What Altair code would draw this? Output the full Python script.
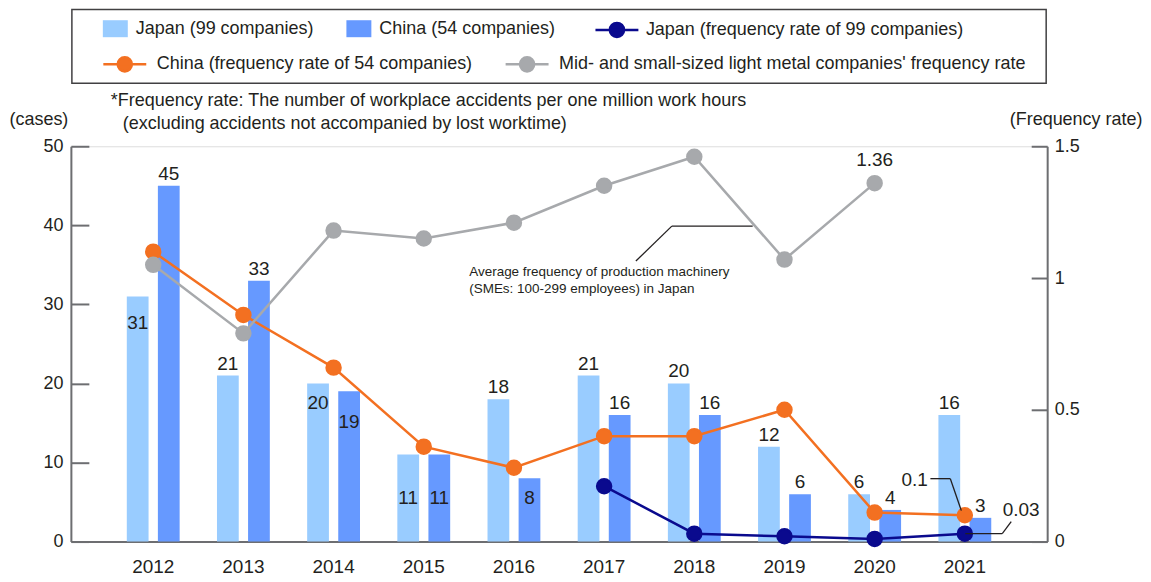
import altair as alt
import pandas as pd

# ---------------- data ----------------
years = [2012, 2013, 2014, 2015, 2016, 2017, 2018, 2019, 2020, 2021]
japan_cases = [31, 21, 20, 11, 18, 21, 20, 12, 6, 16]
china_cases = [45, 33, 19, 11, 8, 16, 16, 6, 4, 3]

japan_rate_years = [2017, 2018, 2019, 2020, 2021]
japan_rate = [0.21, 0.03, 0.02, 0.01, 0.03]

china_rate_years = years
china_rate = [1.10, 0.86, 0.66, 0.36, 0.28, 0.40, 0.40, 0.50, 0.11, 0.10]

sme_rate_years = [2012, 2013, 2014, 2015, 2016, 2017, 2018, 2019, 2020]
sme_rate = [1.05, 0.79, 1.18, 1.15, 1.21, 1.35, 1.46, 1.07, 1.36]

bar_series = ["Japan (99 companies)", "China (54 companies)"]
jp_rate_name = "Japan (frequency rate of 99 companies)"
cn_rate_name = "China (frequency rate of 54 companies)"
sme_rate_name = "Mid- and small-sized light metal companies' frequency rate"

footnote = ["*Frequency rate: The number of workplace accidents per one million work hours",
            "(excluding accidents not accompanied by lost worktime)"]
avg_note = ["Average frequency of production machinery",
            "(SMEs: 100-299 employees) in Japan"]

# ---------------- styles ----------------
FONT = "Liberation Sans"
TXT = "#231F20"
AX = "#6D6E71"
C_JP_BAR = "#99CCFF"
C_CN_BAR = "#6699FF"
C_JP_RATE = "#0A0A8E"
C_CN_RATE = "#F37021"
C_SME = "#A7A9AC"

# label placement (pixel offsets below the bar top for labels drawn inside; default above)
inside_offsets = {
    (bar_series[0], 2012): 33, (bar_series[0], 2014): 26, (bar_series[1], 2014): 37,
    (bar_series[0], 2015): 49, (bar_series[1], 2015): 49, (bar_series[1], 2016): 26,
}
ABOVE = -6

bars_df = pd.DataFrame({
    "year": years * 2,
    "series": [bar_series[0]] * len(years) + [bar_series[1]] * len(years),
    "cases": japan_cases + china_cases,
})
bars_df["dy"] = [inside_offsets.get((s, y), ABOVE) for s, y in zip(bars_df.series, bars_df.year)]

jp_df = pd.DataFrame({"year": japan_rate_years, "rate": japan_rate, "series": jp_rate_name})
cn_df = pd.DataFrame({"year": china_rate_years, "rate": china_rate, "series": cn_rate_name})
sme_df = pd.DataFrame({"year": sme_rate_years, "rate": sme_rate, "series": sme_rate_name})
lines_df = pd.concat([cn_df, sme_df], ignore_index=True)

W, H = 978, 396

x_enc = alt.X("year:O", title=None,
              scale=alt.Scale(paddingInner=0.414, paddingOuter=0.62),
              axis=alt.Axis(labelFont=FONT, labelFontSize=19, labelColor=TXT, labelAngle=0,
                            ticks=False, labelPadding=16, domainColor=AX, domainWidth=2,
                            grid=False))
xoff = alt.XOffset("series:N", scale=alt.Scale(domain=bar_series, paddingInner=0.3, paddingOuter=0))

cases_scale = alt.Scale(domain=[0, 50])
rate_scale = alt.Scale(domain=[0, 1.5])

LINE_SYM = "M-1,0L1,0M-0.33,0A0.33,0.33,0,1,1,0.33,0A0.33,0.33,0,1,1,-0.33,0Z"
BOX_SYM = "M-1,-0.68L1,-0.68L1,0.68L-1,0.68Z"


def legend(x, y, sym, size, sw, off, colpad=20):
    return alt.Legend(title=None, orient="none", legendX=x, legendY=y, direction="horizontal",
                      symbolType=sym, symbolSize=size, symbolStrokeWidth=sw, symbolOpacity=1,
                      labelFont=FONT, labelFontSize=18, labelColor=TXT, labelOffset=off,
                      labelLimit=800, padding=0, columnPadding=colpad)


# bars
bars = alt.Chart(bars_df).mark_bar().encode(
    x=x_enc,
    xOffset=xoff,
    y=alt.Y("cases:Q", scale=cases_scale, title="(cases)",
            axis=alt.Axis(values=[0, 10, 20, 30, 40, 50], labelFont=FONT, labelFontSize=18,
                          labelColor=TXT, ticks=False, labelPadding=8, domainColor=AX,
                          domainWidth=2, grid=True, gridDash=[18, 3000], gridColor=AX,
                          gridWidth=2, gridOpacity=1, titleAngle=0, titleX=-62, titleY=-27,
                          titleAlign="left", titleBaseline="middle", titleFont=FONT,
                          titleFontSize=18, titleFontWeight="normal", titleColor=TXT)),
    fill=alt.Fill("series:N", scale=alt.Scale(domain=bar_series, range=[C_JP_BAR, C_CN_BAR]),
                  legend=legend(32, -130.5, BOX_SYM, 625, 0, 8, 32)),
)

# bar value labels, one layer per vertical placement
label_layers = []
for dy in sorted(set(bars_df.dy)):
    label_layers.append(
        alt.Chart(bars_df[bars_df.dy == dy]).mark_text(
            font=FONT, fontSize=19, color=TXT, baseline="alphabetic", dy=float(dy)
        ).encode(
            x=x_enc,
            xOffset=xoff,
            y=alt.Y("cases:Q", scale=cases_scale, axis=None),
            text=alt.Text("cases:Q"),
        )
    )

# frequency-rate lines
cn_sme_lines = alt.Chart(lines_df).mark_line(strokeWidth=2.5).encode(
    x=x_enc,
    y=alt.Y("rate:Q", scale=rate_scale, title="(Frequency rate)",
            axis=alt.Axis(orient="right", values=[0, 0.5, 1, 1.5], format=".2~f",
                          labelFont=FONT, labelFontSize=18, labelColor=TXT, ticks=False,
                          labelPadding=7, domainColor=AX, domainWidth=2, grid=True,
                          gridDash=[16, 3000], gridColor=AX, gridWidth=2, gridOpacity=1,
                          titleAngle=0, titleX=-38, titleY=-27, titleAlign="left",
                          titleBaseline="middle", titleFont=FONT, titleFontSize=18,
                          titleFontWeight="normal", titleColor=TXT)),
    stroke=alt.Stroke("series:N", scale=alt.Scale(domain=[cn_rate_name, sme_rate_name],
                                                  range=[C_CN_RATE, C_SME]), legend=None),
)

row2_leg = legend(31, -105.5, LINE_SYM, 1849, 2.5, 9, 27)
cn_sme_points = alt.Chart(lines_df).mark_circle(size=210, opacity=1).encode(
    x=x_enc,
    y=alt.Y("rate:Q", scale=rate_scale, axis=None),
    fill=alt.Fill("series:N", scale=alt.Scale(domain=[cn_rate_name, sme_rate_name],
                                              range=[C_CN_RATE, C_SME]), legend=row2_leg),
    stroke=alt.Stroke("series:N", scale=alt.Scale(domain=[cn_rate_name, sme_rate_name],
                                                  range=[C_CN_RATE, C_SME]), legend=row2_leg),
)

jp_line = alt.Chart(jp_df).mark_line(strokeWidth=2.5, color=C_JP_RATE).encode(
    x=x_enc,
    y=alt.Y("rate:Q", scale=rate_scale, axis=None),
)
jp_leg = legend(524, -139.5, LINE_SYM, 1849, 2.5, 6)
jp_points = alt.Chart(jp_df).mark_circle(size=210, opacity=1).encode(
    x=x_enc,
    y=alt.Y("rate:Q", scale=rate_scale, axis=None),
    fill=alt.Fill("series:N", scale=alt.Scale(domain=[jp_rate_name], range=[C_JP_RATE]),
                  legend=jp_leg),
    stroke=alt.Stroke("series:N", scale=alt.Scale(domain=[jp_rate_name], range=[C_JP_RATE]),
                      legend=jp_leg),
)


# value annotations for the rate lines
def rate_label(df, year, dx, dy, align):
    d = df[df.year == year].copy()
    d["label"] = [f"{v:g}" for v in d.rate]
    return alt.Chart(d).mark_text(font=FONT, fontSize=19, color=TXT, dx=dx, dy=dy,
                                  align=align, baseline="middle").encode(
        x=x_enc,
        y=alt.Y("rate:Q", scale=rate_scale, axis=None),
        text="label:N",
    )


lbl_sme = rate_label(sme_df, 2020, 0, -23, "center")
lbl_cn = rate_label(cn_df, 2021, -37, -35, "right")
lbl_jp = rate_label(jp_df, 2021, 38, -24, "left")

one = pd.DataFrame({"a": [0]})


def seg(x1, y1, x2, y2, color=TXT, w=1.3):
    return alt.Chart(one).mark_rule(color=color, strokeWidth=w).encode(
        x=alt.value(x1), y=alt.value(y1), x2=alt.value(x2), y2=alt.value(y2))


leaders = [
    seg(566, 115, 602, 80), seg(602, 80, 683, 80),
    seg(861, 333, 881, 333), seg(881, 333, 892, 365),
    seg(896, 388, 933, 388), seg(933, 388, 942, 376),
]

avg_text = alt.Chart(pd.DataFrame({"t": [avg_note]})).mark_text(
    font=FONT, fontSize=13.5, color=TXT, align="left", baseline="middle", lineHeight=17
).encode(x=alt.value(399), y=alt.value(126), text="t")


def note_line(txt, x, y):
    return alt.Chart(pd.DataFrame({"t": [txt]})).mark_text(
        font=FONT, fontSize=18, color=TXT, align="left", baseline="middle"
    ).encode(x=alt.value(x), y=alt.value(y), text="t")


notes = [note_line(footnote[0], 40, -45), note_line(footnote[1], 52, -22)]

legend_box = alt.Chart(one).mark_rect(fillOpacity=0, stroke="#414042", strokeWidth=1.5).encode(
    x=alt.value(1), x2=alt.value(977), y=alt.value(-137), y2=alt.value(-63))

chart = alt.layer(
    legend_box, bars, *label_layers, cn_sme_lines, jp_line, cn_sme_points, jp_points,
    lbl_sme, lbl_cn, lbl_jp, avg_text, *notes, *leaders
).resolve_scale(
    y="independent", fill="independent", stroke="independent"
).properties(
    width=W, height=H,
    autosize=alt.AutoSizeParams(type="none"),
    padding={"left": 63, "top": 138, "right": 96, "bottom": 36},
).configure_view(stroke=None).configure(background="white")

chart.save("out.html", embed_options={"renderer": "svg", "actions": False})
